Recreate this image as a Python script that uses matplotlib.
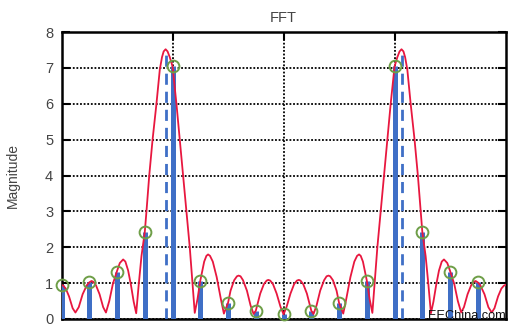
import matplotlib
matplotlib.use("Agg")
import matplotlib.pyplot as plt

# DFT bins and their magnitudes
bins = list(range(16))
bin_mag = [0.95, 1.02, 1.32, 2.43, 7.05, 1.06, 0.45, 0.23,
           0.14, 0.23, 0.45, 1.06, 7.05, 2.43, 1.32, 1.02]

# Continuous spectrum (DTFT magnitude) sampled along the frequency axis
curve_x = [
    0.00, 0.06, 0.15, 0.27, 0.40, 0.50,
    0.62, 0.76, 0.91, 1.00, 1.08, 1.14, 1.24, 1.37, 1.50, 1.60,
    1.72, 1.85, 2.00, 2.10, 2.22, 2.30, 2.40, 2.50, 2.60, 2.69,
    2.78, 2.88, 3.00, 3.06, 3.16, 3.28, 3.42, 3.54, 3.62, 3.68, 3.75,
    3.82, 3.90, 4.00, 4.14, 4.26, 4.38, 4.50, 4.62, 4.72, 4.80,
    4.90, 5.00, 5.14, 5.22, 5.28, 5.35, 5.45, 5.59, 5.74, 5.85,
    6.00, 6.09, 6.22, 6.32, 6.38, 6.45, 6.54, 6.68, 6.81, 6.92,
    7.00, 7.16, 7.29, 7.39, 7.45, 7.52, 7.62, 7.75, 7.89, 8.00,
    8.11, 8.25, 8.38, 8.48, 8.55, 8.61, 8.71, 8.84, 9.00, 9.08,
    9.19, 9.32, 9.46, 9.55, 9.62, 9.68, 9.78, 9.91, 10.00, 10.15,
    10.26, 10.41, 10.55, 10.65, 10.72, 10.78, 10.86, 11.00, 11.10, 11.20,
    11.28, 11.38, 11.50, 11.62, 11.74, 11.86, 12.00, 12.10, 12.18, 12.25,
    12.32, 12.38, 12.46, 12.58, 12.72, 12.84, 12.94, 13.00, 13.12, 13.22, 13.31,
    13.40, 13.50, 13.60, 13.70, 13.78, 13.90, 14.00, 14.15, 14.28, 14.40,
    14.50, 14.63, 14.76, 14.86, 14.92, 15.00, 15.09, 15.24, 15.38, 15.50,
    15.60, 15.73, 15.85, 15.94, 16.00,
]
curve_y = [
    0.95, 0.93, 0.85, 0.63, 0.30, 0.18,
    0.33, 0.69, 0.94, 1.02, 1.06, 1.04, 0.94, 0.69, 0.33, 0.18,
    0.50, 0.98, 1.34, 1.56, 1.66, 1.60, 1.35, 0.95, 0.48, 0.16,
    0.95, 1.75, 2.43, 3.00, 4.00, 5.00, 6.00, 6.95, 7.30, 7.46, 7.52,
    7.46, 7.30, 7.04, 6.00, 5.00, 4.00, 3.00, 2.00, 1.00, 0.17,
    0.56, 1.07, 1.60, 1.76, 1.80, 1.76, 1.60, 1.17, 0.56, 0.15,
    0.45, 0.79, 1.08, 1.19, 1.21, 1.19, 1.08, 0.79, 0.38, 0.14,
    0.23, 0.71, 0.97, 1.07, 1.09, 1.07, 0.97, 0.71, 0.34, 0.13,
    0.34, 0.71, 0.97, 1.07, 1.09, 1.07, 0.97, 0.71, 0.23, 0.14,
    0.38, 0.79, 1.08, 1.19, 1.21, 1.19, 1.08, 0.79, 0.45, 0.15,
    0.56, 1.17, 1.60, 1.76, 1.80, 1.76, 1.60, 1.07, 0.56, 0.17,
    1.00, 2.00, 3.00, 4.00, 5.00, 6.00, 7.04, 7.30, 7.46, 7.52,
    7.46, 7.30, 6.95, 6.00, 5.00, 4.00, 3.00, 2.43, 1.75, 0.95, 0.16,
    0.48, 0.95, 1.35, 1.60, 1.66, 1.56, 1.34, 0.98, 0.50, 0.18,
    0.33, 0.69, 0.94, 1.04, 1.06, 1.02, 0.94, 0.69, 0.33, 0.18,
    0.30, 0.63, 0.85, 0.93, 0.95,
]

# True tone frequencies (in bins) and peak height
tone_freqs = [3.75, 12.25]
tone_peak = 7.52

y_ticks = [0, 1, 2, 3, 4, 5, 6, 7, 8]
x_ticks = [4, 8, 12]

text_color = "#444444"
plt.rcParams["font.family"] = ["Liberation Sans", "DejaVu Sans"]

fig = plt.figure(figsize=(5.15, 3.27), dpi=100)
ax = fig.add_axes([0.1195, 0.0245, 0.8622, 0.8775])

ax.set_xlim(0, 16)
ax.set_ylim(0, 8)

# grid
ax.set_yticks(y_ticks)
ax.set_xticks(x_ticks)
ax.grid(True, color="black", linestyle=(0, (1, 1)), linewidth=1.3)
ax.set_axisbelow(True)

# tone markers
for f in tone_freqs:
    ax.plot([f, f], [0, tone_peak - 0.1], color="#3f6fc6", linewidth=2.0,
            linestyle=(0, (4, 2.5)), zorder=3)

# stems
ax.vlines(bins, 0, bin_mag, color="#3f6fc6", linewidth=3.6, zorder=3)

# continuous spectrum
ax.plot(curve_x, curve_y, color="#e8173f", linewidth=1.3, zorder=4)

# bin markers
ax.plot(bins, bin_mag, linestyle="none", marker="o", markersize=8.5,
        markerfacecolor="none", markeredgecolor="#6e9e47",
        markeredgewidth=1.4, zorder=5, clip_on=False)

for s in ax.spines.values():
    s.set_linewidth(1.8)
    s.set_color("black")

ax.tick_params(axis="both", direction="in", length=6, width=1.5,
               top=True, right=True, colors="black")
ax.tick_params(axis="y", labelsize=10.5, labelcolor=text_color, pad=6)
ax.tick_params(axis="x", labelbottom=False)

ax.set_title("FFT", fontsize=10.5, color=text_color, pad=7)
ax.set_ylabel("Magnitude", fontsize=10, color=text_color, labelpad=18)

fig.text(0.983, 0.016, "EEChina.com", ha="right", va="bottom",
         fontsize=9.2, color="#111111")

fig.savefig("out.png", dpi=100)
